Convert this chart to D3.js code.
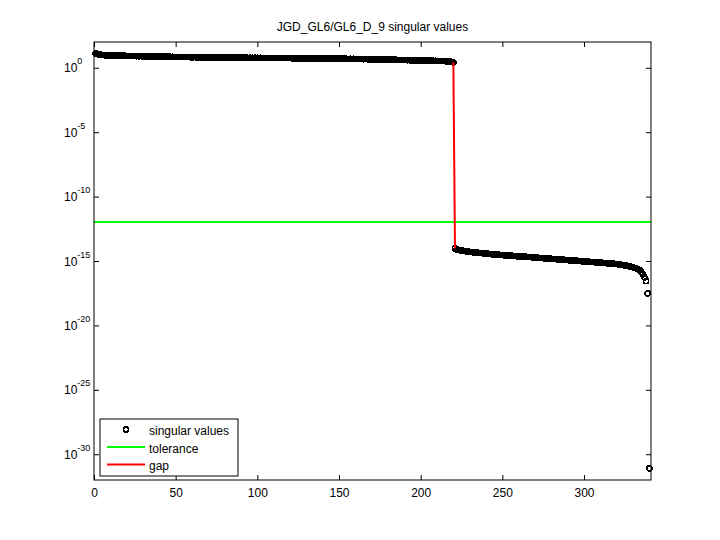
<!DOCTYPE html>
<html>
<head>
<meta charset="utf-8">
<script src="https://cdn.jsdelivr.net/npm/d3@7"></script>
<style>
  body { margin: 0; background: #fff; }
  svg text { font-family: "Liberation Sans", Arial, sans-serif; fill: #000; }
</style>
</head>
<body>
<svg id="chart" width="720" height="540"></svg>
<script>
// log10 of the singular values (index 1..340)
const logSingular = [
  1.12,1.06,1.03,1.01,0.99,0.98,0.97,0.97,0.96,0.96,0.95,0.95,0.95,0.94,0.94,0.94,0.93,0.93,0.93,0.92,
  0.92,0.92,0.91,0.91,0.91,0.90,0.90,0.90,0.90,0.89,0.89,0.89,0.88,0.88,0.88,0.88,0.87,0.87,0.87,0.87,
  0.86,0.86,0.86,0.86,0.85,0.85,0.85,0.85,0.84,0.84,0.84,0.84,0.84,0.83,0.83,0.83,0.83,0.83,0.82,0.82,
  0.82,0.82,0.82,0.81,0.81,0.81,0.81,0.81,0.81,0.80,0.80,0.80,0.80,0.80,0.80,0.80,0.79,0.79,0.79,0.79,
  0.79,0.79,0.79,0.79,0.78,0.78,0.78,0.78,0.78,0.78,0.78,0.78,0.78,0.77,0.77,0.77,0.77,0.77,0.77,0.77,
  0.77,0.77,0.76,0.76,0.76,0.76,0.76,0.76,0.76,0.76,0.76,0.75,0.75,0.75,0.75,0.75,0.75,0.75,0.75,0.75,
  0.74,0.74,0.74,0.74,0.74,0.74,0.74,0.74,0.73,0.73,0.73,0.73,0.73,0.73,0.73,0.73,0.72,0.72,0.72,0.72,
  0.72,0.72,0.72,0.71,0.71,0.71,0.71,0.71,0.71,0.70,0.70,0.70,0.70,0.70,0.69,0.69,0.69,0.69,0.69,0.68,
  0.68,0.68,0.68,0.67,0.67,0.67,0.67,0.66,0.66,0.66,0.66,0.65,0.65,0.65,0.65,0.64,0.64,0.64,0.63,0.63,
  0.63,0.63,0.62,0.62,0.62,0.61,0.61,0.61,0.60,0.60,0.60,0.59,0.59,0.59,0.58,0.58,0.58,0.57,0.57,0.57,
  0.56,0.56,0.56,0.55,0.55,0.55,0.54,0.54,0.54,0.53,0.53,0.52,0.52,0.52,0.51,0.51,0.49,0.47,0.45,0.42,
  -14.02,-14.09,-14.13,-14.16,-14.19,-14.21,-14.23,-14.25,-14.27,-14.29,-14.30,-14.32,-14.33,-14.35,-14.36,-14.38,-14.39,-14.40,-14.42,-14.43,
  -14.44,-14.45,-14.46,-14.48,-14.49,-14.50,-14.51,-14.52,-14.53,-14.54,-14.55,-14.56,-14.57,-14.58,-14.59,-14.60,-14.61,-14.62,-14.63,-14.64,
  -14.65,-14.66,-14.67,-14.67,-14.68,-14.69,-14.70,-14.71,-14.72,-14.73,-14.74,-14.75,-14.76,-14.77,-14.78,-14.79,-14.80,-14.81,-14.82,-14.83,
  -14.84,-14.85,-14.86,-14.87,-14.88,-14.89,-14.90,-14.91,-14.92,-14.93,-14.94,-14.95,-14.96,-14.97,-14.98,-14.99,-15.00,-15.01,-15.02,-15.03,
  -15.04,-15.05,-15.06,-15.07,-15.08,-15.09,-15.10,-15.11,-15.12,-15.13,-15.14,-15.15,-15.16,-15.17,-15.18,-15.19,-15.20,-15.21,-15.23,-15.24,
  -15.26,-15.28,-15.30,-15.32,-15.34,-15.36,-15.39,-15.42,-15.45,-15.49,-15.53,-15.58,-15.64,-15.72,-15.85,-16.04,-16.27,-16.56,-17.51,-31.10
];
const tolerance = 1.07e-12;
const gapIndex = 220;          // gap between sv(220) and sv(221)
const xTicks = [0, 50, 100, 150, 200, 250, 300];
const yTickExps = [0, -5, -10, -15, -20, -25, -30];
const titleText = "JGD_GL6/GL6_D_9 singular values";
const legendLabels = ["singular values", "tolerance", "gap"];

const sv = logSingular.map((v, i) => ({ i: i + 1, s: Math.pow(10, v) }));

const svg = d3.select("#chart");
const pLeft = 94, pRight = 651, pTop = 42, pBottom = 480;

const x = d3.scaleLinear().domain([0, 341]).range([pLeft, pRight]);
const y = d3.scaleLog().domain([1e-32, 1e2]).range([pBottom, pTop]);

svg.append("rect").attr("width", 720).attr("height", 540).attr("fill", "#fff");

// tolerance line
svg.append("line")
  .attr("x1", x(0)).attr("x2", x(341))
  .attr("y1", y(tolerance)).attr("y2", y(tolerance))
  .attr("stroke", "#00ff00").attr("stroke-width", 2);

// singular values
svg.append("g").attr("shape-rendering", "crispEdges").selectAll("circle")
  .data(sv)
  .enter().append("circle")
    .attr("cx", d => x(d.i))
    .attr("cy", d => y(d.s))
    .attr("r", 2.6)
    .attr("fill", "none")
    .attr("stroke", "#000")
    .attr("stroke-width", 1.6);

// gap
const g0 = sv[gapIndex - 1], g1 = sv[gapIndex];
svg.append("line")
  .attr("x1", x(g0.i)).attr("y1", y(g0.s))
  .attr("x2", x(g1.i)).attr("y2", y(g1.s))
  .attr("stroke", "#ff0000").attr("stroke-width", 2);

// axes, ticks inward
const yTickVals = yTickExps.map(e => Math.pow(10, e));

svg.append("g")
  .attr("transform", `translate(0,${pBottom})`)
  .call(d3.axisBottom(x).tickValues(xTicks).tickSizeInner(-5).tickSizeOuter(0).tickPadding(8))
  .call(g => g.select(".domain").remove())
  .call(g => g.selectAll("text").attr("font-size", 12).attr("font-family", "Liberation Sans, Arial, sans-serif"));

svg.append("g")
  .attr("transform", `translate(0,${pTop})`)
  .call(d3.axisTop(x).tickValues(xTicks).tickSizeInner(-5).tickSizeOuter(0).tickFormat(""))
  .call(g => g.select(".domain").remove());

const yAxis = svg.append("g")
  .attr("transform", `translate(${pLeft},0)`)
  .call(d3.axisLeft(y).tickValues(yTickVals).tickSizeInner(-5).tickSizeOuter(0).tickFormat(""))
  .call(g => g.select(".domain").remove());

yAxis.selectAll(".tick text").remove();
yAxis.selectAll(".tick").each(function(d) {
  const e = Math.round(Math.log10(d));
  const t = d3.select(this).append("text")
    .attr("x", 64 - pLeft).attr("y", 4)
    .attr("text-anchor", "start")
    .attr("font-size", 12);
  t.append("tspan").text("10");
  t.append("tspan").attr("dy", -8).attr("font-size", 9).text(e);
});

svg.append("g")
  .attr("transform", `translate(${pRight},0)`)
  .call(d3.axisRight(y).tickValues(yTickVals).tickSizeInner(-5).tickSizeOuter(0).tickFormat(""))
  .call(g => g.select(".domain").remove());

svg.append("rect")
  .attr("x", pLeft).attr("y", pTop)
  .attr("width", pRight - pLeft).attr("height", pBottom - pTop)
  .attr("fill", "none").attr("stroke", "#000").attr("stroke-width", 1);

// title
svg.append("text")
  .attr("x", (pLeft + pRight) / 2).attr("y", 31)
  .attr("text-anchor", "middle").attr("font-size", 12)
  .text(titleText);

// legend
const lg = svg.append("g").attr("transform", "translate(100,419)");
lg.append("rect").attr("width", 138).attr("height", 57)
  .attr("fill", "#fff").attr("stroke", "#000").attr("stroke-width", 1);
lg.append("circle").attr("cx", 26).attr("cy", 10.5).attr("r", 2.6)
  .attr("fill", "none").attr("stroke", "#000").attr("stroke-width", 1.6)
  .attr("shape-rendering", "crispEdges");
lg.append("line").attr("x1", 7).attr("x2", 45).attr("y1", 28).attr("y2", 28)
  .attr("stroke", "#00ff00").attr("stroke-width", 2);
lg.append("line").attr("x1", 7).attr("x2", 45).attr("y1", 45.5).attr("y2", 45.5)
  .attr("stroke", "#ff0000").attr("stroke-width", 2);
lg.selectAll("text.lab")
  .data(legendLabels)
  .enter().append("text")
    .attr("class", "lab")
    .attr("x", 49)
    .attr("y", (d, i) => 16 + i * 17.5)
    .attr("font-size", 12)
    .text(d => d);
</script>
</body>
</html>
